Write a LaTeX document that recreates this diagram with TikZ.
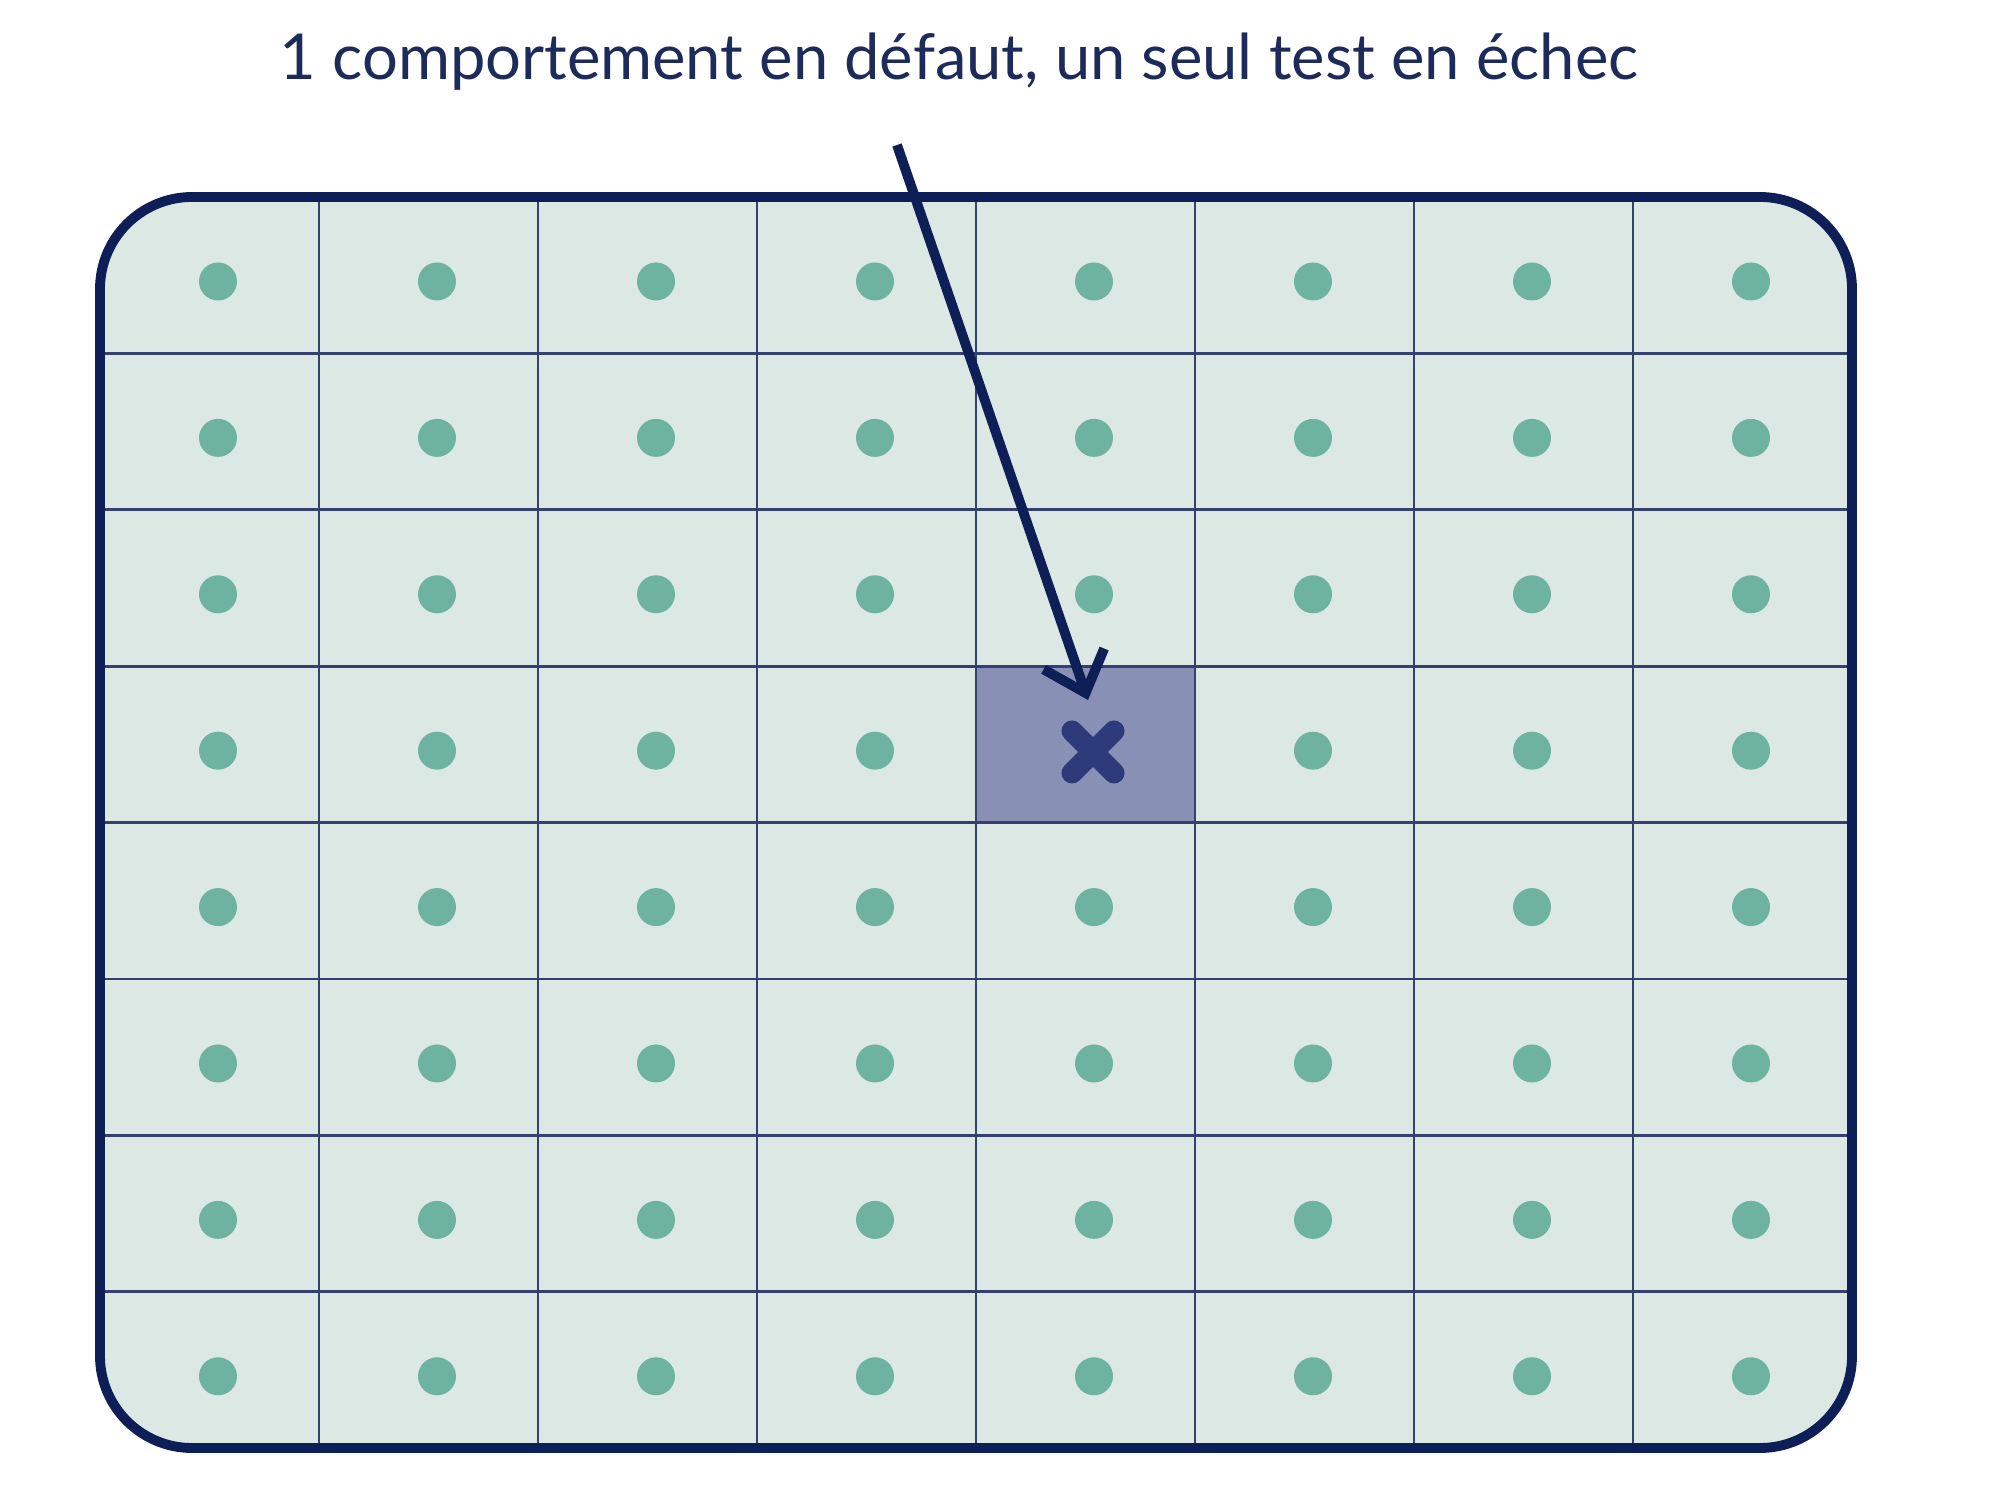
\documentclass[tikz,border=0pt]{standalone}
\usepackage{fontspec}
\setmainfont{Lato}
\usepackage{xcolor}
\usepackage{tikz}
\usetikzlibrary{arrows.meta,positioning,calc}
\definecolor{navy}{HTML}{0E1E56}
\definecolor{gridnavy}{HTML}{34406E}
\definecolor{panelfill}{HTML}{DCE8E4}
\definecolor{okgreen}{HTML}{6DB3A0}
\definecolor{failfill}{HTML}{8990B5}
\definecolor{crossnavy}{HTML}{2E3B7A}
\definecolor{titlenavy}{HTML}{1D2B5A}
\tikzset{
  frame/.style={draw=navy, line width=2.8pt, rounded corners=0.92cm},
  gridrule/.style={gridnavy, line width=0.8pt},
  okdot/.style={circle, fill=okgreen, inner sep=0pt, minimum size=0.38cm},
  failcross/.style={crossnavy, line width=6pt, line cap=round},
  pointer/.style={-{Straight Barb[length=3.6mm, width=6.4mm]}, navy, line width=2.8pt},
}

\begin{document}
\begin{tikzpicture}
\useasboundingbox (0,0) rectangle (20.08,-14.96);
% panel and failed cell
\fill[panelfill, rounded corners=0.92cm] (1.00,-1.97) rectangle (18.52,-14.48);
\node[fill=failfill, minimum width=2.19cm, minimum height=1.564cm, inner sep=0pt, anchor=north west] (fail) at (9.76,-6.662) {};
\foreach \i in {1,...,7} {
  \draw[gridrule] ({1.00+2.19*\i},-1.97) -- ({1.00+2.19*\i},-14.48);
  \draw[gridrule] (1.00,{-1.97-1.564*\i}) -- (18.52,{-1.97-1.564*\i});
}
\draw[frame] (1.00,-1.97) rectangle (18.52,-14.48);
% passing tests
\foreach \c in {0,...,7} {
  \foreach \r in {0,...,7} {
    \ifnum\c=4 \ifnum\r=3 \else
      \node[okdot] (d\c\r) at ({2.18+2.19*\c},{-2.815-1.564*\r}) {};
    \fi \else
      \node[okdot] (d\c\r) at ({2.18+2.19*\c},{-2.815-1.564*\r}) {};
    \fi
  }
}
% failing test
\coordinate (x) at (10.93,-7.52);
\draw[failcross] ($(x)+(-0.21,0.21)$) -- ($(x)+(0.21,-0.21)$);
\draw[failcross] ($(x)+(-0.21,-0.21)$) -- ($(x)+(0.21,0.21)$);
\node[titlenavy, font=\fontsize{18}{21}\selectfont] (title) at (9.59,-0.62) {1 comportement en défaut, un seul test en échec};
\coordinate (from) at (8.97,-1.45);
\coordinate (tip) at (10.88,-7.00);
\draw[pointer] (from) -- (tip);
\end{tikzpicture}
\end{document}
